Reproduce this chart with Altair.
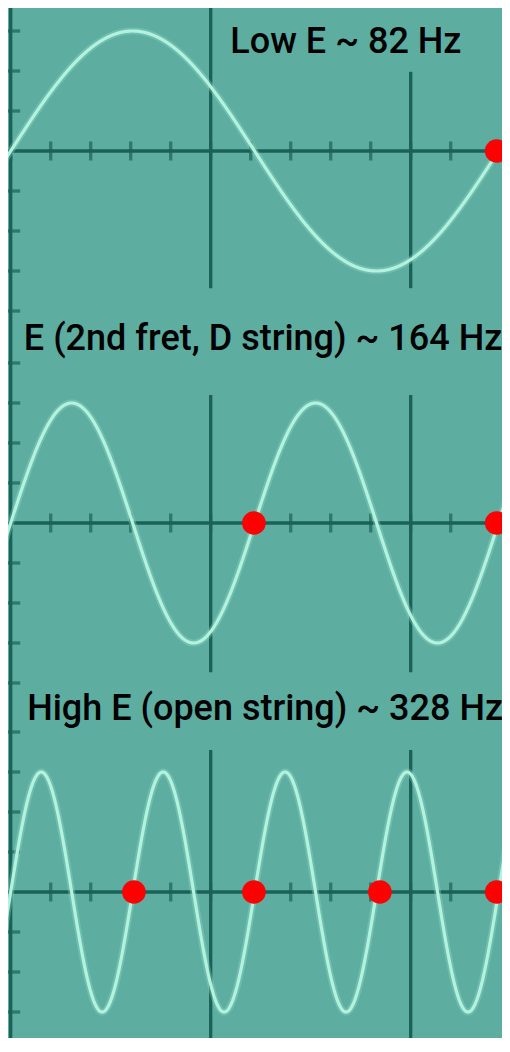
import altair as alt
import pandas as pd

# ---- data ----
freqs_hz = [82, 164, 328]
titles = ["Low E ~ 82 Hz", "E (2nd fret, D string) ~ 164 Hz", "High E (open string) ~ 328 Hz"]
amplitude = 3
zero_crossings_ms = [[12.15], [6.08, 12.15], [3.08, 6.08, 9.23, 12.15]]
time_ticks_ms = list(range(0, 13))
level_ticks = [-4, -3, -2, -1, 1, 2, 3, 4]
grid_ms = [5, 10]

# ---- layout / style (not data) ----
BG = "#5daea1"
DARK = "#1b6156"
WAVE = "#b4f2de"
GLOW = "#8fdcc8"
FONT = "Roboto"
FONT_SIZE = 36
W, H = 494, 1030                 # page = 8 + W + 8 wide, 8 + H + ~5 + 8 tall: fits 510 x 1052
PX_PER_MS = 40.0
x0 = -0.0675
x_domain = [x0, x0 + W / PX_PER_MS]
y_domain = [0, H / 40.0]
panel_base = [22.175, 12.875, 3.65]          # level of each panel's zero line
grid_spans = [[(3.6, -3.43), (1.98, -3.43)],
              [(3.2, -3.73), (3.2, -3.73)],
              [(3.55, -4.1), (3.55, -4.1)]]
title_xy = [(8.38, 2.45), (6.31, 4.325), (6.36, 4.3)]

xs = alt.Scale(domain=x_domain, nice=False, zero=False)
ys = alt.Scale(domain=y_domain, nice=False, zero=False)


def X(f):
    return alt.X(f, type="quantitative", scale=xs, axis=None)


def Y(f):
    return alt.Y(f, type="quantitative", scale=ys, axis=None)


layers = []

# left axis (continuous through all panels)
layers.append(
    alt.Chart(pd.DataFrame({"t": [0]})).mark_rule(color=DARK, strokeWidth=3.3).encode(x=X("t"))
)

for i, f in enumerate(freqs_hz):
    base = panel_base[i]
    grid_df = pd.DataFrame({
        "t": grid_ms,
        "top": [s[0] for s in grid_spans[i]],
        "bot": [s[1] for s in grid_spans[i]],
    })
    layers.append(
        alt.Chart(grid_df).transform_calculate(
            y1=f"datum.top + {base}", y2=f"datum.bot + {base}"
        ).mark_rule(color=DARK, strokeWidth=3.3).encode(x=X("t"), y=Y("y1"), y2="y2")
    )
    layers.append(
        alt.Chart(pd.DataFrame({"v": [0]})).transform_calculate(y=f"datum.v + {base}")
        .mark_rule(color=DARK, strokeWidth=3.3).encode(y=Y("y"))
    )
    layers.append(
        alt.Chart(pd.DataFrame({"v": level_ticks, "t": [0] * len(level_ticks)}))
        .transform_calculate(y=f"datum.v + {base}")
        .mark_tick(color=DARK, orient="horizontal", size=19, thickness=3.3)
        .encode(x=X("t"), y=Y("y"))
    )
    layers.append(
        alt.Chart(pd.DataFrame({"t": time_ticks_ms, "v": [0] * len(time_ticks_ms)}))
        .transform_calculate(y=f"datum.v + {base}")
        .mark_tick(color=DARK, orient="vertical", size=19, thickness=3.3)
        .encode(x=X("t"), y=Y("y"))
    )
    wave_src = alt.Chart(alt.sequence(-0.2, 12.7, 0.005, as_="t")).transform_calculate(
        y=f"{amplitude}*sin(2*PI*{f}*datum.t/1000) + {base}"
    )
    layers.append(wave_src.mark_line(color=GLOW, strokeWidth=7, opacity=0.35).encode(x=X("t"), y=Y("y")))
    layers.append(wave_src.mark_line(color=WAVE, strokeWidth=3.2).encode(x=X("t"), y=Y("y")))
    zc = zero_crossings_ms[i]
    layers.append(
        alt.Chart(pd.DataFrame({"t": zc, "v": [0] * len(zc)}))
        .transform_calculate(y=f"datum.v + {base}")
        .mark_circle(color="#ff0000", opacity=1, size=560)
        .encode(x=X("t"), y=Y("y"))
    )
    tx, ty = title_xy[i]
    layers.append(
        alt.Chart(pd.DataFrame({"t": [tx], "v": [ty], "label": [titles[i]]}))
        .transform_calculate(y=f"datum.v + {base}")
        .mark_text(align="center", baseline="alphabetic", font=FONT, fontSize=FONT_SIZE,
                   fontWeight=500, color="#000000")
        .encode(x=X("t"), y=Y("y"), text="label:N")
    )

chart = alt.layer(*layers).properties(
    width=W, height=H, padding=0, background=BG,
    autosize=alt.AutoSizeParams(type="none"),
).configure_view(stroke=None)

chart.save("out.html", embed_options={"renderer": "svg", "actions": False})
